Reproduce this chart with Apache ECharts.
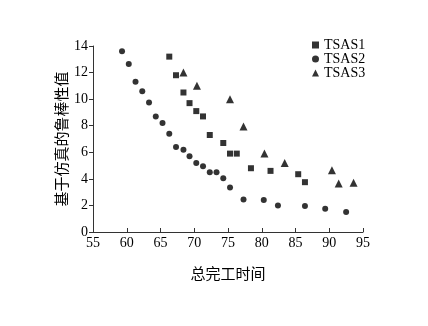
<!DOCTYPE html>
<html>
<head>
<meta charset="utf-8">
<script src="https://cdn.jsdelivr.net/npm/echarts@6/dist/echarts.min.js"></script>
<style>html,body{margin:0;padding:0;background:#fff;}#c{width:428px;height:326px;}</style>
</head>
<body>
<div id="c"></div>
<script>
var xTicks = [55, 60, 65, 70, 75, 80, 85, 90, 95];
var yTicks = [0, 2, 4, 6, 8, 10, 12, 14];
var seriesNames = ['TSAS1', 'TSAS2', 'TSAS3'];
var tsas1 = [[66.3,13.2],[67.3,11.8],[68.4,10.5],[69.3,9.7],[70.3,9.1],[71.3,8.7],[72.3,7.3],[74.3,6.7],[75.3,5.9],[76.3,5.9],[78.4,4.8],[81.3,4.6],[85.4,4.35],[86.4,3.75]];
var tsas2 = [[59.3,13.6],[60.3,12.65],[61.3,11.3],[62.3,10.6],[63.3,9.75],[64.3,8.7],[65.3,8.2],[66.3,7.4],[67.3,6.4],[68.4,6.2],[69.3,5.7],[70.3,5.2],[71.3,4.95],[72.3,4.5],[73.3,4.5],[74.3,4.05],[75.3,3.35],[77.3,2.45],[80.3,2.4],[82.4,2.0],[86.4,1.95],[89.4,1.75],[92.5,1.5]];
var tsas3 = [[68.4,12.0],[70.4,11.0],[75.3,10.0],[77.3,7.95],[80.4,5.9],[83.4,5.2],[90.4,4.65],[91.4,3.65],[93.6,3.7]];

var serif = 'Liberation Serif';
var chart = echarts.init(document.getElementById('c'), null, {renderer: 'canvas'});
chart.setOption({
  animation: false,
  backgroundColor: '#fff',
  grid: {left: 93, right: 65, top: 46, bottom: 94},
  legend: {
    orient: 'vertical', left: 307, top: 33,
    itemWidth: 7, itemHeight: 7, itemGap: 0,
    textStyle: {fontFamily: serif, fontSize: 14, color: '#000', lineHeight: 14, padding: [0,0,0,0]},
    data: [
      {name: seriesNames[0], icon: 'rect'},
      {name: seriesNames[1], icon: 'circle'},
      {name: seriesNames[2], icon: 'triangle'}
    ]
  },
  xAxis: {
    type: 'value', min: xTicks[0], max: xTicks[xTicks.length-1], interval: 5,
    name: '总完工时间', nameLocation: 'middle', nameGap: 34, nameMoveOverlap: false,
    nameTextStyle: {fontFamily: 'Noto Sans CJK SC', fontSize: 15, color: '#000'},
    axisLine: {show: true, lineStyle: {color: '#333', width: 1}},
    axisTick: {show: true, inside: true, length: 4, lineStyle: {color: '#333'}},
    axisLabel: {fontFamily: serif, fontSize: 14, color: '#000', margin: 4},
    splitLine: {show: false}
  },
  yAxis: {
    type: 'value', min: yTicks[0], max: yTicks[yTicks.length-1], interval: 2,
    name: '基于仿真的鲁棒性值', nameLocation: 'middle', nameGap: 24, nameMoveOverlap: false,
    nameTextStyle: {fontFamily: 'Noto Sans CJK SC', fontSize: 15, color: '#000'},
    axisLine: {show: true, lineStyle: {color: '#333', width: 1}},
    axisTick: {show: true, inside: false, length: 4, lineStyle: {color: '#333'}},
    axisLabel: {fontFamily: serif, fontSize: 14, color: '#000', margin: 5},
    splitLine: {show: false}
  },
  series: [
    {name: seriesNames[0], type: 'scatter', symbol: 'rect', symbolSize: 6, data: tsas1, itemStyle: {color: '#000'}},
    {name: seriesNames[1], type: 'scatter', symbol: 'circle', symbolSize: 6, data: tsas2, itemStyle: {color: '#000'}},
    {name: seriesNames[2], type: 'scatter', symbol: 'triangle', symbolSize: 8, data: tsas3, itemStyle: {color: '#000'}}
  ]
});
</script>
</body>
</html>
